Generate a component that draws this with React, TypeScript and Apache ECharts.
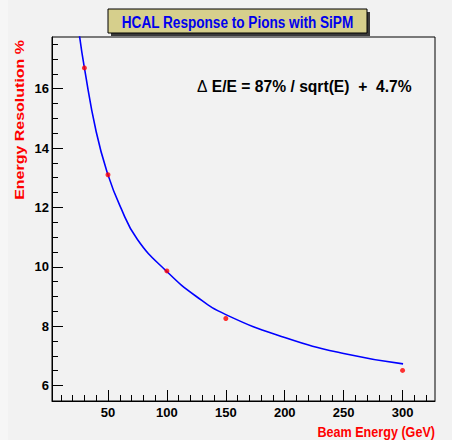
import React, { useEffect, useRef } from "react";
import * as echarts from "echarts";

// Measured points (Beam Energy GeV, Energy Resolution %)
const beamEnergy = [30, 50, 100, 150, 300];
const resolution = [16.7, 13.1, 9.86, 8.26, 6.51];

// Fit curve
const fitEnergy = [25.6, 30, 40, 50, 60, 75, 100, 125, 150, 200, 250, 300.4];
const fitResolution = [17.85, 16.7, 14.55, 13.1, 12.07, 10.92, 9.84, 9.0, 8.39, 7.62, 7.08, 6.73];

const xMajorTicks = [50, 100, 150, 200, 250, 300];
const xMinorTicks = [10, 20, 30, 40, 50, 60, 70, 80, 90, 100, 110, 120, 130, 140, 150, 160, 170, 180, 190, 200, 210, 220, 230, 240, 250, 260, 270, 280, 290, 300, 310, 320];
const yMajorTicks = [6, 8, 10, 12, 14, 16];
const yMinorTicks = [6, 6.5, 7, 7.5, 8, 8.5, 9, 9.5, 10, 10.5, 11, 11.5, 12, 12.5, 13, 13.5, 14, 14.5, 15, 15.5, 16, 16.5, 17, 17.5];

const titleText = "HCAL Response to Pions with SiPM";
const formulaText = " E/E = 87% / sqrt(E)  +  4.7%";
const xTitle = "Beam Energy (GeV)";
const yTitle = "Energy Resolution %";

const FONT = "'Liberation Sans', Arial, Helvetica, sans-serif";

export default function App() {
  const ref = useRef<HTMLDivElement>(null);
  useEffect(() => {
    if (!ref.current) return;
    const chart = echarts.init(ref.current, undefined, { renderer: "svg" });
    const xRange = { min: 2.5, max: 327.5 };
    const yRange = { min: 5.48, max: 17.74 };
    chart.setOption({
      animation: false,
      backgroundColor: "#f2f2f2",
      grid: {
        left: 52,
        right: 17,
        top: 37,
        bottom: 39,
        show: true,
        borderColor: "#000",
        borderWidth: 1,
        backgroundColor: "transparent",
      },
      xAxis: [
        {
          type: "value",
          ...xRange,
          position: "bottom",
          axisLine: { show: true, lineStyle: { color: "#000", width: 1 } },
          axisTick: { show: true, inside: true, length: 11, customValues: xMajorTicks, lineStyle: { color: "#000" } },
          axisLabel: {
            customValues: xMajorTicks,
            color: "#000",
            fontWeight: "bold",
            fontSize: 13,
            fontFamily: FONT,
            margin: 5,
          },
          splitLine: { show: false },
        },
        {
          type: "value",
          ...xRange,
          position: "bottom",
          axisLine: { show: false },
          axisTick: { show: true, inside: true, length: 6, customValues: xMinorTicks, lineStyle: { color: "#000" } },
          axisLabel: { show: false },
          splitLine: { show: false },
        },
      ],
      yAxis: [
        {
          type: "value",
          ...yRange,
          position: "left",
          axisLine: { show: true, lineStyle: { color: "#000", width: 1 } },
          axisTick: { show: true, inside: true, length: 11, customValues: yMajorTicks, lineStyle: { color: "#000" } },
          axisLabel: {
            customValues: yMajorTicks,
            color: "#000",
            fontWeight: "bold",
            fontSize: 13,
            fontFamily: FONT,
            margin: 3,
          },
          splitLine: { show: false },
        },
        {
          type: "value",
          ...yRange,
          position: "left",
          axisLine: { show: false },
          axisTick: { show: true, inside: true, length: 6, customValues: yMinorTicks, lineStyle: { color: "#000" } },
          axisLabel: { show: false },
          splitLine: { show: false },
        },
      ],
      series: [
        {
          type: "line",
          name: "fit",
          data: fitEnergy.map((e, i) => [e, fitResolution[i]]),
          smooth: 0.5,
          showSymbol: false,
          symbol: "none",
          clip: true,
          lineStyle: { color: "#0000ff", width: 1.6 },
          z: 2,
        },
        {
          type: "scatter",
          name: "data",
          data: beamEnergy.map((e, i) => [e, resolution[i]]),
          symbol: "circle",
          symbolSize: 5,
          itemStyle: { color: "#ff0000" },
          z: 3,
        },
      ],
      graphic: [
        { type: "rect", left: 0, top: 0, shape: { width: 8, height: 440 }, style: { fill: "#f6f6f6" }, z: -1 },
        { type: "rect", shape: { x: 111, y: 12, width: 259, height: 24 }, style: { fill: "#3a3a3a" }, z: 10 },
        { type: "rect", shape: { x: 108, y: 9, width: 259, height: 24 }, style: { fill: "#d6cf8c", stroke: "#000", lineWidth: 1 }, z: 11 },
        {
          type: "text",
          x: 237.5,
          y: 21.5,
          scaleX: 0.8,
          z: 12,
          style: {
            text: titleText,
            fill: "#0000ee",
            font: `bold 17px ${FONT}`,
            align: "center",
            verticalAlign: "middle",
          },
        },
        {
          type: "text",
          x: 197,
          y: 86,
          scaleX: 0.92,
          z: 12,
          style: {
            text: "{d|Δ}{t|" + formulaText + "}",
            align: "left",
            verticalAlign: "middle",
            rich: {
              d: { font: `17px ${FONT}`, fill: "#000" },
              t: { font: `bold 17px ${FONT}`, fill: "#000" },
            },
          },
        },
        {
          type: "text",
          x: 435,
          y: 432,
          scaleX: 0.84,
          z: 12,
          style: {
            text: xTitle,
            fill: "#ff0000",
            font: `bold 15px ${FONT}`,
            align: "right",
            verticalAlign: "middle",
          },
        },
        {
          type: "text",
          x: 20,
          y: 40,
          rotation: Math.PI / 2,
          scaleY: 0.8,
          z: 12,
          style: {
            text: yTitle,
            fill: "#ff0000",
            font: `bold 16px ${FONT}`,
            align: "right",
            verticalAlign: "middle",
          },
        },
      ],
    });
    return () => chart.dispose();
  }, []);
  return <div ref={ref} style={{ position: "absolute", left: 0, top: 0, width: 452, height: 440 }} />;
}
